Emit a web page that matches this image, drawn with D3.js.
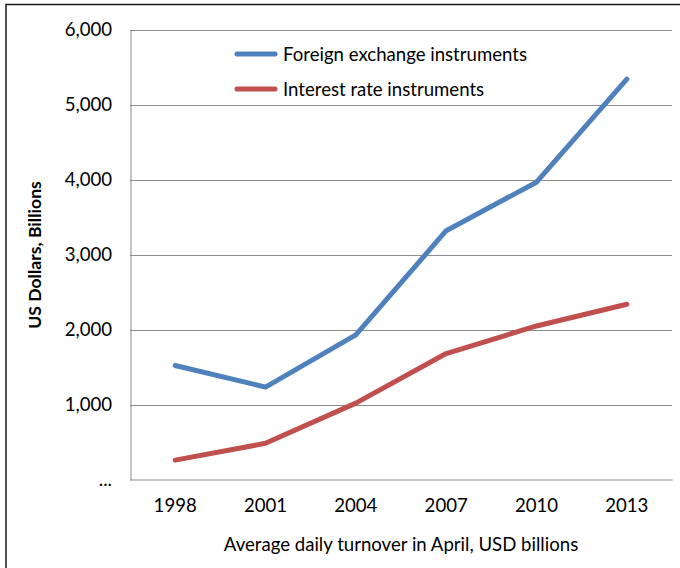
<!doctype html>
<html lang="en">
  <head>
    <meta charset="utf-8">
    <title>Average daily turnover</title>
    <script src="https://d3js.org/d3.v7.min.js"></script>
    <style>
      body { margin: 0; background: #fff; }
      svg { display: block; font-family: Lato, "Open Sans", sans-serif; }
    </style>
  </head>
  <body>
    <div id="chart"></div>
    <script>
      // data
      const years = ["1998", "2001", "2004", "2007", "2010", "2013"];
      const fxValues = [1527, 1239, 1934, 3324, 3971, 5345];
      const irValues = [265, 489, 1025, 1686, 2054, 2343];
      const yTicks = [0, 1000, 2000, 3000, 4000, 5000, 6000];
      const yTickLabels = ["...", "1,000", "2,000", "3,000", "4,000", "5,000", "6,000"];
      const seriesNames = ["Foreign exchange instruments", "Interest rate instruments"];
      const seriesColors = ["#4f81bd", "#c0504d"];

      const W = 680, H = 568;
      const margin = {top: 30, right: 8, bottom: 88, left: 130};
      const width = W - margin.left - margin.right,
            height = H - margin.top - margin.bottom;
      const fs = 18.6;

      const root = d3.select("#chart").append("svg")
        .attr("width", W).attr("height", H);

      // outer frame (only top and left edges fall inside the picture)
      root.append("path")
        .attr("d", `M6,${H} V4.5 H${W}`)
        .attr("fill", "none")
        .attr("stroke", "#1a1a1a")
        .attr("stroke-width", 1.5);

      const svg = root.append("g")
        .attr("transform", `translate(${margin.left},${margin.top})`);

      const x = d3.scaleBand().domain(years).range([0, width]);
      const y = d3.scaleLinear().domain([0, 6000]).range([height, 0]);

      // gridlines
      svg.append("g")
        .selectAll("line")
        .data(yTicks.slice(1))
        .join("line")
          .attr("x1", 0).attr("x2", width)
          .attr("y1", d => y(d) + 0.5).attr("y2", d => y(d) + 0.5)
          .attr("stroke", "#8c8c8c");

      // y axis
      const yAxis = svg.append("g")
        .call(d3.axisLeft(y).tickValues(yTicks).tickSize(0).tickPadding(18)
          .tickFormat((d, i) => yTickLabels[i]));
      yAxis.select(".domain").attr("stroke", "#8c8c8c").attr("transform", "translate(0.5,0)");
      yAxis.selectAll("text").attr("font-size", fs).attr("fill", "#000")
        .attr("font-family", "Lato, sans-serif");

      // x axis
      const xAxis = svg.append("g")
        .attr("transform", `translate(0,${height})`)
        .call(d3.axisBottom(x).tickSize(0).tickPadding(19));
      xAxis.select(".domain").attr("stroke", "#8c8c8c").attr("transform", "translate(0,-0.5)");
      xAxis.selectAll("text").attr("font-size", fs).attr("fill", "#000")
        .attr("font-family", "Lato, sans-serif");

      // lines
      const line = d3.line()
        .x((d, i) => x(years[i]) + x.bandwidth() / 2)
        .y(d => y(d));

      [fxValues, irValues].forEach((vals, k) => {
        svg.append("path")
          .datum(vals)
          .attr("d", line)
          .attr("fill", "none")
          .attr("stroke", seriesColors[k])
          .attr("stroke-width", 5)
          .attr("stroke-linecap", "round")
          .attr("stroke-linejoin", "round");
      });

      // legend
      const legend = svg.append("g").attr("transform", "translate(107,24)");
      seriesNames.forEach((name, k) => {
        const g = legend.append("g").attr("transform", `translate(0,${k * 35})`);
        g.append("line")
          .attr("x1", 0).attr("x2", 38)
          .attr("stroke", seriesColors[k])
          .attr("stroke-width", 5)
          .attr("stroke-linecap", "round");
        g.append("text")
          .attr("x", 46).attr("dy", "0.35em")
          .attr("font-size", fs)
          .text(name);
      });

      // axis titles
      svg.append("text")
        .attr("x", width / 2)
        .attr("y", height + 71)
        .attr("text-anchor", "middle")
        .attr("font-size", fs)
        .text("Average daily turnover in April, USD billions");

      svg.append("text")
        .attr("transform", `translate(${35 - margin.left},${height / 2}) rotate(-90)`)
        .attr("text-anchor", "middle")
        .attr("dy", "0.35em")
        .attr("font-size", 17.6)
        .attr("font-weight", "bold")
        .text("US Dollars, Billions");
    </script>
  </body>
</html>
